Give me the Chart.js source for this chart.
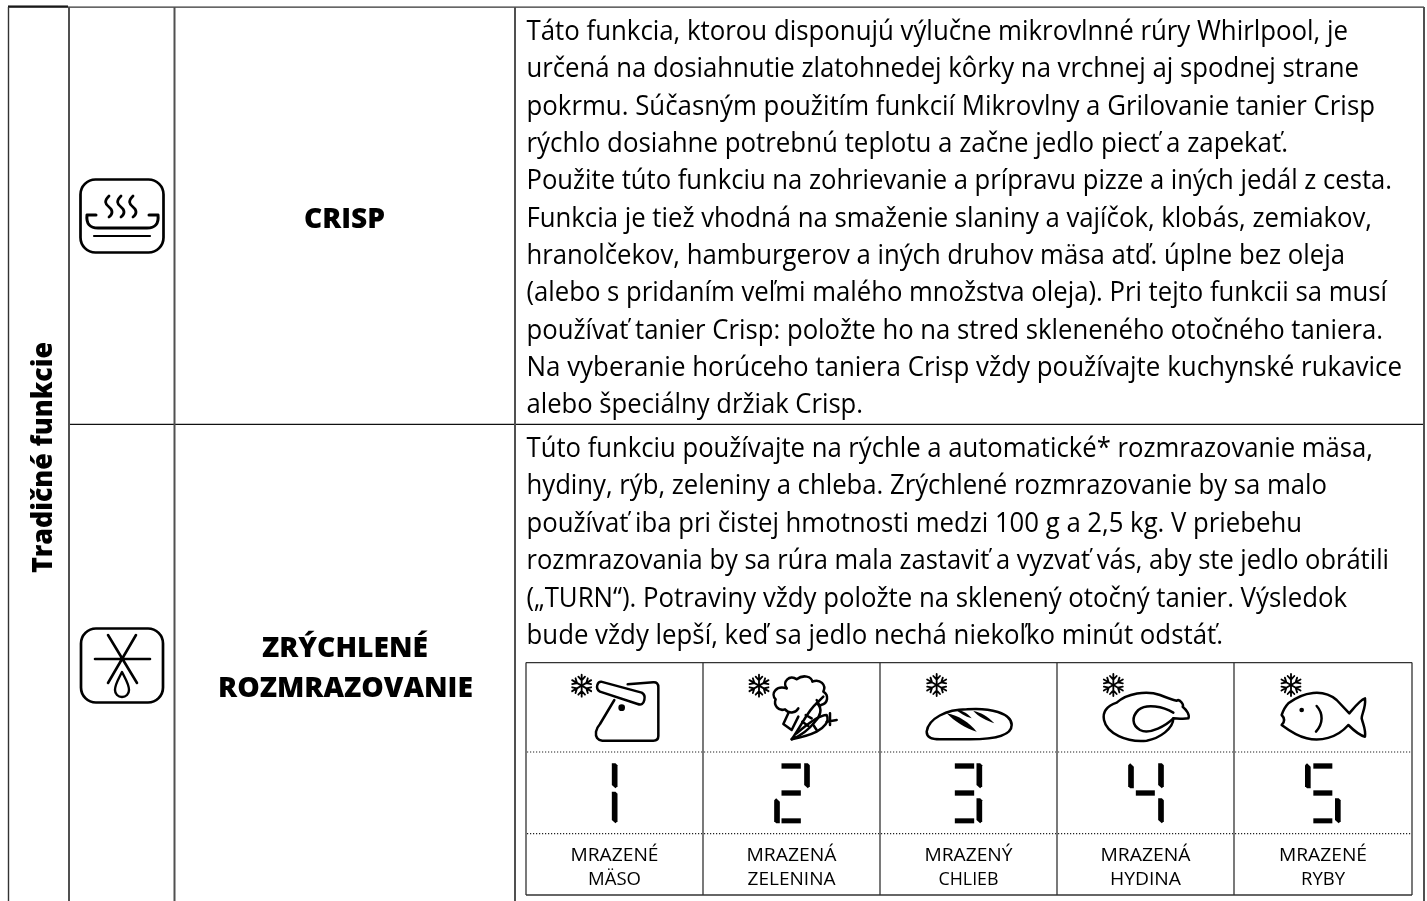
<!DOCTYPE html>
<html><head><meta charset="utf-8">
<script src="https://cdn.jsdelivr.net/npm/chart.js@4"></script>
<style>html,body{margin:0;padding:0;background:#fff;overflow:hidden}canvas{display:block}</style>
</head><body><canvas id="c" width="1427" height="901"></canvas>
<script>
// ---- content ----
const sectionTitle = "Tradičné funkcie";
const functionNames = [["CRISP"], ["ZRÝCHLENÉ", "ROZMRAZOVANIE"]];
const functionNameWidths = [[81],[166,255]];
const crispLines = [
 "Táto funkcia, ktorou disponujú výlučne mikrovlnné rúry Whirlpool, je",
 "určená na dosiahnutie zlatohnedej kôrky na vrchnej aj spodnej strane",
 "pokrmu. Súčasným použitím funkcií Mikrovlny a Grilovanie tanier Crisp",
 "rýchlo dosiahne potrebnú teplotu a začne jedlo piecť a zapekať.",
 "Použite túto funkciu na zohrievanie a prípravu pizze a iných jedál z cesta.",
 "Funkcia je tiež vhodná na smaženie slaniny a vajíčok, klobás, zemiakov,",
 "hranolčekov, hamburgerov a iných druhov mäsa atď. úplne bez oleja",
 "(alebo s pridaním veľmi malého množstva oleja). Pri tejto funkcii sa musí",
 "používať tanier Crisp: položte ho na stred skleneného otočného taniera.",
 "Na vyberanie horúceho taniera Crisp vždy používajte kuchynské rukavice",
 "alebo špeciálny držiak Crisp."];
const crispLineEnds = [1348,1359,1375,1288,1392,1372,1345,1387,1383,1402,863];
const defrostLines = [
 "Túto funkciu používajte na rýchle a automatické* rozmrazovanie mäsa,",
 "hydiny, rýb, zeleniny a chleba. Zrýchlené rozmrazovanie by sa malo",
 "používať iba pri čistej hmotnosti medzi 100 g a 2,5 kg. V priebehu",
 "rozmrazovania by sa rúra mala zastaviť a vyzvať vás, aby ste jedlo obrátili",
 "(„TURN“). Potraviny vždy položte na sklenený otočný tanier. Výsledok",
 "bude vždy lepší, keď sa jedlo nechá niekoľko minút odstáť."];
const defrostLineEnds = [1373,1327,1302,1389,1347,1223];
const foodCodes = [1,2,3,4,5];
const foodLabels = [["MRAZENÉ","MÄSO"],["MRAZENÁ","ZELENINA"],["MRAZENÝ","CHLIEB"],["MRAZENÁ","HYDINA"],["MRAZENÉ","RYBY"]];
const foodLabelWidths = [[88,53],[90,88],[88,60],[90,71],[88,44]];

// ---- table rules, in page units of the chart's scales ----
const outerColumns = [8.5,69,174.5,515,1424];
const foodColumns = [526,703,880,1057,1234,1412];

const rule = (x1,y1,x2,y2,extra={}) => ({type:'line',showLine:true,pointRadius:0,borderColor:'#333',borderWidth:1.3,
  data:[{x:x1,y:y1},{x:x2,y:y2}],...extra});
const datasets = [];
outerColumns.forEach((x,i)=>datasets.push(rule(x,7,x,901,i===0?{borderWidth:1.4,borderColor:'#333'}:{borderWidth:2,borderColor:'#505050'})));
datasets.push(rule(8,7.2,1424,7.2));
datasets.push(rule(8,6.5,68,6.5,{borderWidth:2.2,borderColor:'#000'}));
datasets.push(rule(69,424.3,1424,424.3,{borderColor:'#111'}));
foodColumns.forEach(x=>datasets.push(rule(x,662.5,x,895)));
datasets.push(rule(526,662.7,1412,662.7));
datasets.push(rule(526,895,1412,895));
foodColumns.slice(0,5).forEach((x,i)=>{
  [752,833.7].forEach(y=>datasets.push(rule(x+1,y,foodColumns[i+1]-1,y,{borderWidth:1.2,borderDash:[1.2,1.8],borderColor:'#222'})));
});

// ---- icon outlines, SVG paths drawn at 1/3 scale from a local origin ----
const ICON_A = [515,650], ICON_B = [960,650];
const foodIcons = [
 {o:ICON_A,flake:[200,107],stroke:[
  "M338 103 L415 97 Q430 96 430 112 L430 258 Q430 272 415 272 L262 272 Q240 270 243 245 Q246 232 255 222 L298 150",
  "M258 95 L380 128 Q392 135 388 150 Q384 168 368 162 L255 125 Q243 118 247 105 Q250 95 258 95 Z"],dots:[[320,173,10]]},
 {o:ICON_A,flake:[732,107],stroke:[
  "M815 115 C800 95 825 72 845 88 C865 72 890 80 892 95 C915 85 935 105 925 125 C942 135 940 160 918 165",
  "M815 115 C785 105 765 130 782 148 C775 165 790 185 810 178 C825 195 845 185 850 175",
  "M820 190 L805 222 L830 240 L850 200",
  "M830 268 C860 225 880 180 905 160 C925 175 915 200 900 215 C880 240 855 258 830 268 Z",
  "M845 250 C885 215 915 195 935 195 C945 215 925 235 905 245 C885 255 860 262 830 268",
  "M872 195 L890 205 M862 215 L880 228 M895 225 L905 240 M905 150 L915 170 M925 140 L905 160 M935 215 L965 210 M945 190 L945 225"],dots:[]},
 {o:ICON_B,flake:[-70,105],stroke:[
  "M-100 245 C-95 205 -40 178 20 178 C90 172 155 190 155 225 C155 260 90 268 30 268 L-60 268 C-90 268 -100 258 -100 245 Z"],
  fill:["M-40 190 C-5 195 30 220 50 245 C15 235 -15 215 -40 190 Z","M40 183 C60 186 85 200 103 220 C80 212 55 200 40 183 Z","M-15 178 C5 180 20 188 35 205 C15 200 0 190 -15 178 Z"],dots:[]},
 {o:ICON_B,flake:[460,105],stroke:[
  "M470 158 C500 130 560 120 600 135 C625 145 640 150 650 152 C660 145 672 165 668 170 C680 180 690 195 685 205 C670 208 650 205 640 205 C640 235 600 265 560 272 C500 278 440 250 432 210 C428 190 435 170 470 158 Z",
  "M640 188 C610 170 560 160 535 180 C515 200 515 225 540 240 C570 255 620 225 640 205"],dots:[]},
 {o:ICON_B,flake:[993,105],stroke:[
  "M985 160 C1030 125 1090 115 1130 150 L1168 190 C1185 170 1200 150 1215 145 C1218 175 1205 190 1205 205 C1210 225 1218 240 1215 260 C1195 255 1180 240 1165 225 C1130 265 1080 275 1040 265 C1010 258 985 240 965 225 C975 215 975 205 965 195 C970 180 975 170 985 160 Z",
  "M1070 168 C1090 190 1090 220 1068 245"],dots:[[1025,180,7]]}
];
// seven-segment layout: which segments light up per digit, and the digit's x offsets (3x units from cell centre)
const segmentsOn = {1:['ru','rl'],2:['t','ru','m','ll','b'],3:['t','ru','m','rl','b'],4:['lu','ru','m','rl'],5:['t','lu','m','rl','b']};
const digitGeom = {1:{l:0,h:[0,0],r:-8},2:{l:-52,h:[-30,28],r:38},3:{l:0,h:[-41,17],r:24},4:{l:-52,h:[-29,28],r:38},5:{l:-54,h:[-29,28],r:36}};

const fitText = (ctx,text,x,y,width)=>{
  ctx.save();ctx.translate(x,y);
  ctx.scale(width/ctx.measureText(text).width,1);
  ctx.fillText(text,0,0);ctx.restore();
};
const flake = (ctx,cx,cy)=>{
  ctx.lineWidth=5.5;
  for(let i=0;i<6;i++){
    ctx.save();ctx.translate(cx,cy);ctx.rotate(i*Math.PI/3+Math.PI/2);
    ctx.beginPath();ctx.moveTo(0,0);ctx.lineTo(33,0);
    ctx.moveTo(16,0);ctx.lineTo(27,-10);ctx.moveTo(16,0);ctx.lineTo(27,10);ctx.stroke();
    ctx.restore();
  }
};

const tablePlugin = {
 id:'tableContent',
 afterDatasetsDraw(chart){
  const ctx=chart.ctx, X=chart.scales.x, Y=chart.scales.y;
  const px=v=>X.getPixelForValue(v), py=v=>Y.getPixelForValue(v);
  ctx.save();
  ctx.fillStyle='#000';ctx.textBaseline='alphabetic';ctx.textAlign='left';
  // body text
  ctx.font='28px "Open Sans"';
  crispLines.forEach((t,i)=>fitText(ctx,t,px(526.5),py(40+37.33*i),px(crispLineEnds[i])-px(526.5)));
  defrostLines.forEach((t,i)=>fitText(ctx,t,px(526.5),py(457+37.4*i),px(defrostLineEnds[i])-px(526.5)));
  // function names
  ctx.font='800 28px "Open Sans"';
  fitText(ctx,functionNames[0][0],px(304),py(228.3),functionNameWidths[0][0]);
  fitText(ctx,functionNames[1][0],px(262),py(656.7),functionNameWidths[1][0]);
  fitText(ctx,functionNames[1][1],px(218),py(697),functionNameWidths[1][1]);
  // section title, rotated
  ctx.save();ctx.translate(px(51.5),py(573));ctx.rotate(-Math.PI/2);
  ctx.font='800 29px "Open Sans"';
  fitText(ctx,sectionTitle,0,0,231);
  ctx.restore();
  // food labels
  ctx.font='19px "Open Sans"';
  foodLabels.forEach((pair,i)=>{
    const cx=(foodColumns[i]+foodColumns[i+1])/2;
    pair.forEach((t,j)=>{
      const w=foodLabelWidths[i][j];
      fitText(ctx,t,px(cx-w/2),py(860.7+24.3*j),w);
    });
  });
  // digits
  foodCodes.forEach((d,i)=>{
    const cx=(foodColumns[i]+foodColumns[i+1])/2, g=digitGeom[d];
    const seg={
     t:[g.h[0],340,g.h[1],356], m:[g.h[0],421,g.h[1],437], b:[g.h[0],505,g.h[1],520]};
    ctx.fillStyle='#000';
    segmentsOn[d].forEach(s=>{
      if(seg[s]){const [a,y1,b,y2]=seg[s];ctx.fillRect(px(cx+a/3),py(650+y1/3),(b-a)/3,(y2-y1)/3);return;}
      const x0=(s[0]==='r'?g.r:g.l), up=s[1]==='u';
      const y1=up?340:(d===1?425:445), y2=up?415:520, w=17;
      const xa=px(cx+x0/3), xb=px(cx+(x0+w)/3);
      const Yp=v=>py(650+v/3);
      ctx.beginPath();
      if(s[0]==='r'){
        ctx.moveTo(xa,Yp(y1));ctx.lineTo(xb-2,Yp(y1));ctx.lineTo(xb,Yp(y1+6));ctx.lineTo(xb,Yp(y2-6));ctx.lineTo(xb-2,Yp(y2));ctx.lineTo(xa,Yp(y2-10));
      }else{
        ctx.moveTo(xb,Yp(y1+10));ctx.lineTo(xb,Yp(y2));ctx.lineTo(xa+2,Yp(y2));ctx.lineTo(xa,Yp(y2-6));ctx.lineTo(xa,Yp(y1+6));ctx.lineTo(xa+2,Yp(y1));
      }
      ctx.closePath();ctx.fill();
    });
  });
  // food icons
  ctx.strokeStyle='#000';ctx.fillStyle='#000';ctx.lineJoin='round';ctx.lineCap='round';
  foodIcons.forEach(ic=>{
    ctx.save();ctx.translate(px(ic.o[0]),py(ic.o[1]));ctx.scale(1/3,1/3);
    flake(ctx,ic.flake[0],ic.flake[1]);
    ctx.lineWidth=7.5;
    ic.stroke.forEach(s=>ctx.stroke(new Path2D(s)));
    (ic.fill||[]).forEach(s=>ctx.fill(new Path2D(s)));
    ic.dots.forEach(d=>{ctx.beginPath();ctx.arc(d[0],d[1],d[2],0,7);ctx.fill();});
    ctx.restore();
  });
  // function icons
  ctx.lineWidth=2.7;
  const round=(x,y,w,h,r)=>{ctx.beginPath();ctx.roundRect(px(x),py(y),w,h,r);ctx.stroke();};
  round(80.5,179.5,83,73,15);
  round(81,628.5,82,74,15);
  ctx.save();ctx.translate(px(0),py(0));
  ctx.lineWidth=2.8;
  [109,121,133].forEach(x=>ctx.stroke(new Path2D(`M${x} 196 C${x-5} 201 ${x-4} 204 ${x} 207 C${x+4} 210 ${x+4} 214 ${x} 217`)));
  ctx.lineWidth=3;
  ctx.stroke(new Path2D("M96 215 L87 215 C86 224 90 228 98 228 L147 228 C155 228 159 224 158 215 L149 215"));
  ctx.lineWidth=2.2;ctx.stroke(new Path2D("M94 236 L150 236"));
  ctx.lineWidth=2.6;
  ctx.stroke(new Path2D("M95 659 L150 659 M108 635 L137 683 M136 635 L108 683"));
  ctx.lineWidth=2.4;
  ctx.stroke(new Path2D("M122 672 C126 680 129 684 129 690 C129 694 126 697 122 697 C118 697 115 694 115 690 C115 684 118 680 122 672 Z"));
  ctx.restore();
  ctx.restore();
 }
};

new Chart(document.getElementById('c'),{
 type:'scatter',
 data:{datasets},
 options:{
  responsive:false,animation:false,events:[],
  layout:{padding:0},
  plugins:{legend:{display:false},tooltip:{enabled:false},title:{display:false}},
  scales:{
   x:{type:'linear',min:0,max:1427,display:false},
   y:{type:'linear',min:0,max:901,reverse:true,display:false}
  }
 },
 plugins:[tablePlugin]
});
</script></body></html>
